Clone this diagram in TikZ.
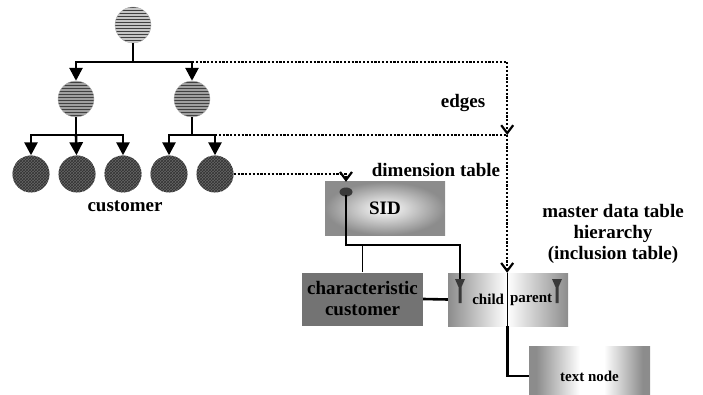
\documentclass[tikz,border=0pt]{standalone}
\usepackage{fontspec}
\setmainfont{Liberation Serif}
\usetikzlibrary{patterns,arrows.meta}

\pgfdeclarehorizontalshading{edgefade}{100bp}{color(0bp)=(gray!90); color(28bp)=(gray!90);
  color(46bp)=(white); color(56bp)=(white); color(72bp)=(gray!90); color(100bp)=(gray!90)}

\tikzset{
  keypin/.pic={\fill[gray!45!black] (-5,0) -- (5,0) -- (1.5,8) -- (1.5,24) -- (-1.5,24) -- (-1.5,8) -- cycle;}
}

\begin{document}
\begin{tikzpicture}[x=1pt,y=-1pt,
	font=\fontsize{19}{21}\selectfont\bfseries,
	topnode/.style={circle,minimum size=36pt,inner sep=0pt,draw=gray!60,
		preaction={fill=gray!45},pattern=horizontal lines,pattern color=black!75},
	midnode/.style={topnode,preaction={fill=gray!75}},
	leafnode/.style={circle,minimum size=37pt,inner sep=0pt,
		preaction={fill=black!60},pattern=crosshatch,pattern color=black!80},
	treearrow/.style={line width=2.6pt,-{Triangle[width=13pt,length=13pt]}},
	treeline/.style={line width=2.6pt},
	dotline/.style={line width=2.2pt,dash pattern=on 2.2pt off 1.6pt},
	dotarrow/.style={dotline,-{Straight Barb[width=12pt,length=8pt,line width=2.2pt]}},
	keyline/.style={line width=2.6pt},
	box/.style={minimum height=53pt,inner sep=2pt,align=center},
	sidbox/.style={box,minimum width=120pt,inner color=white,outer color=gray!90},
	charbox/.style={box,minimum width=121pt,fill=black!55},
	halfbox/.style={box,minimum height=53pt,font=\fontsize{15}{17}\selectfont\bfseries},
	textbox/.style={box,minimum width=121pt,minimum height=60pt,shading=edgefade,
		font=\fontsize{15}{17}\selectfont\bfseries}
]
\useasboundingbox (0,0) rectangle (703,395);

	% customer hierarchy
	\node[topnode] (r) at (133,25) {};
	\node[midnode] (a) at (76,99) {};
	\node[midnode] (b) at (192,99) {};
	\foreach \x [count=\i] in {31,77,123,169,215}{
		\node[leafnode] (l\i) at (\x,174) {};
	}
	\coordinate (j1) at (133,62);
	\coordinate (j2) at (76,135);
	\coordinate (j3) at (192,135);

	\draw[treeline] (r) -- (j1);
	\draw[treearrow] (j1) -| (a);
	\draw[treearrow] (j1) -| (b);
	\draw[treeline] (a) -- (j2);
	\draw[treearrow] (j2) -| (l1);
	\draw[treearrow] (j2) -- (l2);
	\draw[treearrow] (j2) -| (l3);
	\draw[treeline] (b) -- (j3);
	\draw[treearrow] (j3) -| (l4);
	\draw[treearrow] (j3) -| (l5);

	\node (cust) at (125,206) {customer};

	% tables
	\node[sidbox] (sid) at (385,208.5) {SID};
	\node[charbox] (cc) at (362.5,299) {characteristic\\customer};
	\node[halfbox,minimum width=59pt,text width=53pt,align=right,
		left color=gray!90,right color=white] (child) at (477.5,299.5) {child};
	\node[halfbox,minimum width=61pt,text width=55pt,align=left,
		left color=white,right color=gray!90] (parent) at (537.5,299.5) {parent};
	\draw[line width=1pt] (child.north east) -- (child.south east);
	\node[textbox] (tn) at (589.5,376) {text node};

	\node (edges) at (463,103) {edges};
	\node (dim) at (436,170) {dimension table};
	\node[align=center] (master) at (613,234) {master data table\\hierarchy\\(inclusion table)};

	% keys
	\coordinate (k1) at (346,195);
	\coordinate (k2) at (460,279);
	\coordinate (k3) at (346,245);
	\fill[gray!45!black] (346,192) ellipse (6.5 and 4.5);
	\pic at (460,279) {keypin};
	\pic at (557,279) {keypin};

	\draw[keyline] (k1) -- (k3) -| (k2);
	\draw[line width=1.2pt] (cc.north |- k3) -- (cc.north);
	\draw[keyline] (cc.east) -- (child.west);
	\draw[keyline] (child.south east) |- (tn.west);

	% edges
	\coordinate (e1) at (child.north east |- j3);
	\draw[dotarrow] (b |- j1) -| (e1);
	\draw[dotline] (l5 |- j3) -- (e1);
	\draw[dotarrow] (e1) -- (child.north east);
	\draw[dotarrow] (l5) -| (sid.north -| k1);

\end{tikzpicture}
\end{document}
